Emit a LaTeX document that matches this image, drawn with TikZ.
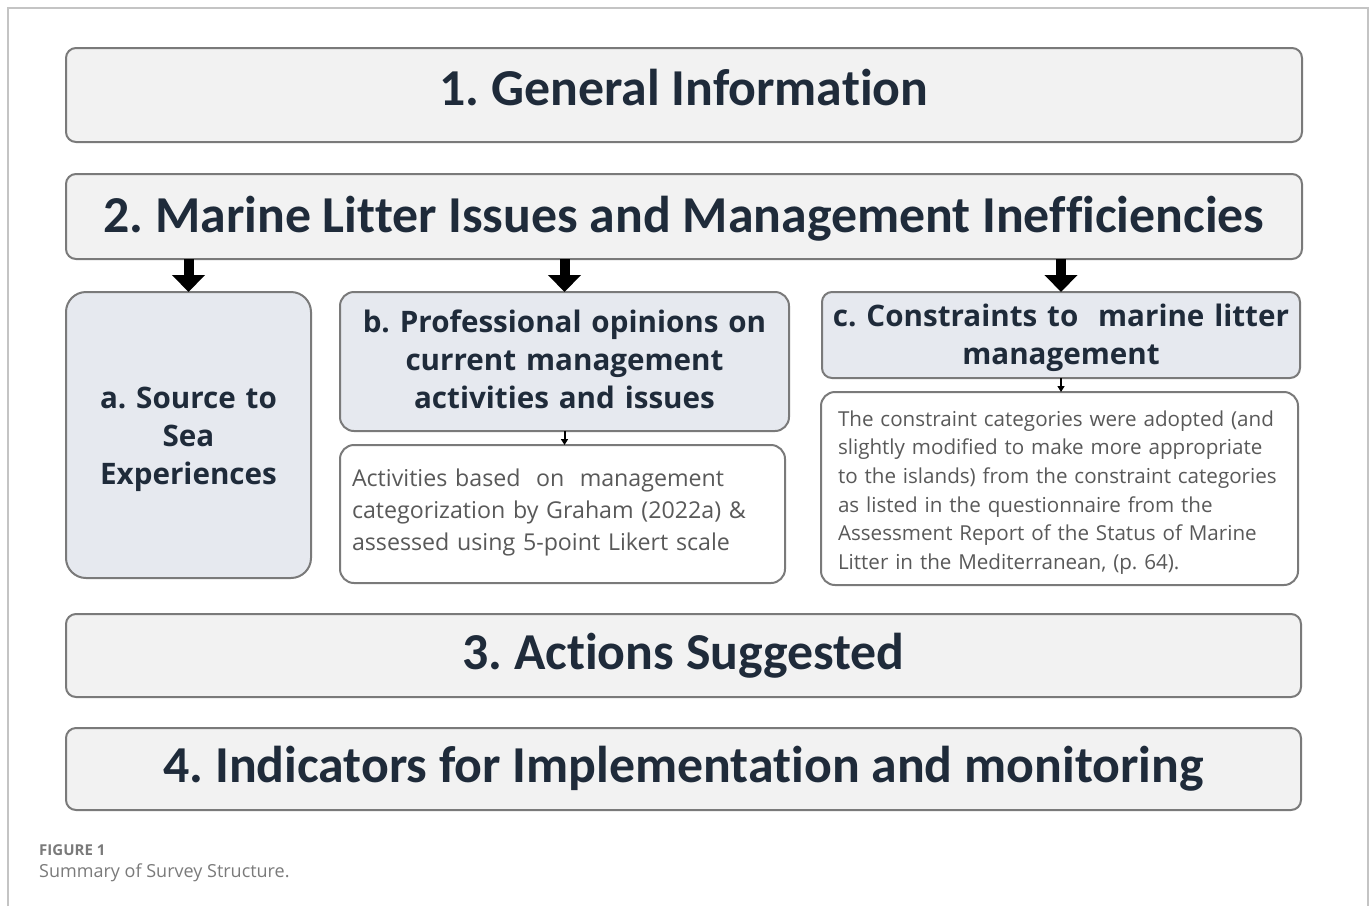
\documentclass[tikz,border=0pt]{standalone}
\usepackage{fontspec}
\setmainfont{Carlito}[Ligatures=NoCommon]
\newfontfamily\capfont{Open Sans}
\newfontfamily\subfont{Open Sans}[Ligatures=NoCommon]
\usetikzlibrary{arrows.meta,positioning}
\definecolor{navy}{HTML}{1F2B3A}
\definecolor{boxline}{HTML}{7A7A7A}
\definecolor{greyfill}{HTML}{F2F2F2}
\definecolor{bluefill}{HTML}{E6E9EF}
\definecolor{bodytext}{HTML}{595959}
\definecolor{framecol}{HTML}{C4C4C4}
\definecolor{capcol}{HTML}{7A7A7A}
\frenchspacing
\tikzset{
  basebox/.style={draw=boxline, line width=2pt, rounded corners=10pt, inner sep=0pt, outer sep=0pt, anchor=north west},
  mainbox/.style={basebox, fill=greyfill, text=navy, text height=33pt, font=\fontsize{51.8}{56}\selectfont\bfseries},
  subbox/.style={basebox, fill=bluefill, text=navy, align=center, rounded corners=14pt, font=\subfont\fontsize{29.6}{38}\selectfont\bfseries},
  bodybox/.style={basebox, fill=white, text=bodytext, rounded corners=14pt},
  bigarrow/.style={line width=10pt, -{Triangle[width=32pt,length=17pt]}},
  smallarrow/.style={line width=2pt, -{Triangle[width=7pt,length=6pt]}},
}
\begin{document}
\begin{tikzpicture}[x=1pt,y=-1pt]
\useasboundingbox (0,0) rectangle (1372,906);
\draw[framecol, line width=1.5pt] (8,906) -- (8,8) -- (1368,8) -- (1368,906);
\node[mainbox, text depth=13pt, minimum width=1236pt, minimum height=94pt] (m1) at (66,48) {1. General Information};
\node[mainbox, text depth=2pt, minimum width=1236pt, minimum height=85pt] (m2) at (66,174) {2. Marine Litter Issues and Management Inefficiencies};
\node[subbox, rounded corners=20pt, text width=235pt, minimum width=245pt, minimum height=286pt] (a) at (66,292) {a. Source to\\Sea\\Experiences\par\vspace{-8pt}};
\node[subbox, text width=440pt, minimum width=449pt, minimum height=139pt] (b) at (340,292) {b. Professional opinions on\\current management\\activities and issues\par\vspace{4pt}};
\node[bodybox, minimum width=445pt, minimum height=138pt, text width=433pt, align=left, font=\subfont\fontsize{23.2}{32}\selectfont] (b2) at (340,445) {\hspace*{6pt}Activities based\ \ on\ \ management\\\hspace*{6pt}categorization by Graham (2022a) \&\\\hspace*{6pt}assessed using 5-point Likert scale\par\vspace{4pt}};
\node[subbox, rounded corners=10pt, text width=470pt, minimum width=478pt, minimum height=86pt] (c) at (822,292) {c. Constraints to\ \ marine litter\\management\par\vspace{-6pt}};
\node[bodybox, minimum width=477pt, minimum height=193pt, text width=460pt, align=left, font=\subfont\fontsize{20.6}{28.7}\selectfont] (c2) at (821,392) {\hspace*{8.5pt}The constraint categories were adopted (and\\\hspace*{8.5pt}slightly modified to make more appropriate\\\hspace*{8.5pt}to the islands) from the constraint categories\\\hspace*{8.5pt}as listed in the questionnaire from the\\\hspace*{8.5pt}Assessment Report of the Status of Marine\\\hspace*{8.5pt}Litter in the Mediterranean, (p. 64).\par\vspace{-8pt}};
\node[mainbox, text depth=6pt, minimum width=1235pt, minimum height=83pt] (m3) at (66,614) {3. Actions Suggested};
\node[mainbox, text depth=7pt, minimum width=1235pt, minimum height=82pt] (m4) at (66,728) {4. Indicators for Implementation and monitoring};
\draw[bigarrow] (m2.south -| a.north) -- (a.north);
\draw[bigarrow] (m2.south -| b.north) -- (b.north);
\draw[bigarrow] (m2.south -| c.north) -- (c.north);
\draw[smallarrow] (b.south) -- (b.south |- b2.north);
\draw[smallarrow] (c.south) -- (c.south |- c2.north);
\node[anchor=west, inner sep=0pt, text=capcol, font=\capfont\fontsize{15}{18}\selectfont\bfseries] (cap1) at (39,850) {FIGURE 1};
\node[anchor=west, inner sep=0pt, text=capcol, font=\capfont\fontsize{18}{21}\selectfont] (cap2) at (39,873) {Summary of Survey Structure.};
\end{tikzpicture}
\end{document}
